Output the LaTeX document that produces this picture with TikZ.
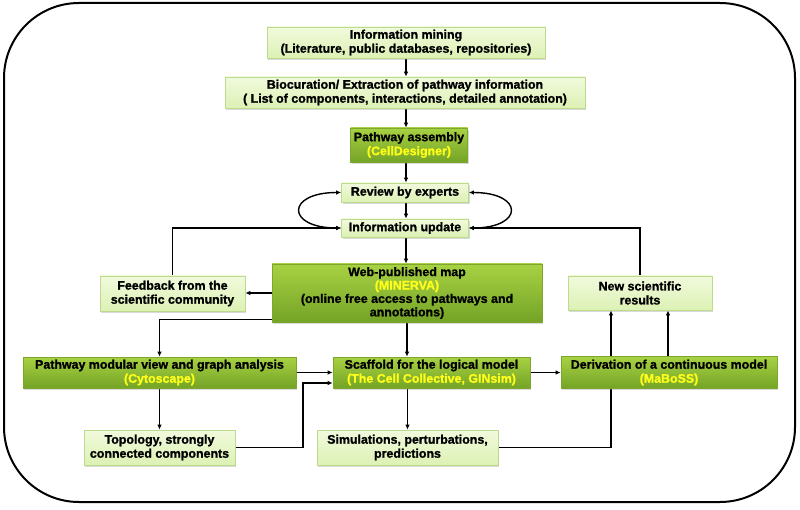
\documentclass[tikz,border=0pt]{standalone}
\usepackage{fontspec}
\setmainfont{Liberation Sans}[BoldFeatures={FakeBold=1.2}]
\usetikzlibrary{arrows.meta,shadows,backgrounds}
\definecolor{lighttop}{HTML}{F1FADD}
\definecolor{lightbot}{HTML}{DDF1B4}
\definecolor{lightedge}{HTML}{BCDB8C}
\definecolor{darktop}{HTML}{A8D243}
\definecolor{darkbot}{HTML}{74A326}
\definecolor{darkedge}{HTML}{7EA72E}
\definecolor{tooly}{HTML}{FFFF1A}
\tikzset{
  basebox/.style={rectangle, inner sep=1pt, align=center,
    font=\fontsize{12.4}{14}\selectfont\bfseries,
    drop shadow={opacity=0.3, shadow xshift=1.2pt, shadow yshift=-1.6pt}},
  lightbox/.style={basebox, draw=lightedge, line width=0.6pt, top color=lighttop, bottom color=lightbot},
  darkbox/.style={basebox, draw=darkedge, line width=0.6pt, top color=darktop, bottom color=darkbot},
  conn/.style={line width=1.4pt, draw=black},
  arr/.style={conn, -{Latex[length=5pt,width=4.5pt]}},
  dblarr/.style={conn, {Latex[length=5pt,width=4.5pt]}-{Latex[length=5pt,width=4.5pt]}},
  frame/.style={draw=black, line width=2pt, rounded corners=75pt},
}
\newcommand{\tool}[1]{\textcolor{tooly}{#1}}
\begin{document}
\begin{tikzpicture}[x=1pt,y=-1pt]
\useasboundingbox (0,0) rectangle (800,510);
% nodes
\node[lightbox, minimum width=278pt, minimum height=31pt] (mining) at (406,42.5)
  {Information mining\\(Literature, public databases, repositories)};
\node[lightbox, minimum width=360pt, minimum height=31pt] (bioc) at (405,92.5)
  {Biocuration/ Extraction of pathway information\\( List of components, interactions, detailed annotation)};
\node[darkbox, minimum width=117pt, minimum height=34pt] (assembly) at (409,145)
  {Pathway assembly\\\tool{(CellDesigner)}};
\node[lightbox, minimum width=127pt, minimum height=19pt] (review) at (405,192.5)
  {Review by experts};
\node[lightbox, minimum width=127pt, minimum height=18pt] (update) at (405,228)
  {Information update};
\node[darkbox, minimum width=270pt, minimum height=58pt, font=\fontsize{12.4}{13.4}\selectfont\bfseries] (web) at (407,293)
  {Web-published map\\\tool{(MINERVA)}\\(online free access to pathways and\\annotations)};
\node[lightbox, minimum width=145pt, minimum height=35pt] (feedback) at (172.5,293.5)
  {Feedback from the\\scientific community};
\node[lightbox, minimum width=144pt, minimum height=34pt] (newsci) at (640,293)
  {New scientific\\results};
\node[darkbox, minimum width=273pt, minimum height=31pt] (modular) at (159.5,372.5)
  {Pathway modular view and graph analysis\\\tool{(Cytoscape)}};
\node[darkbox, minimum width=197pt, minimum height=31pt] (scaffold) at (431.5,372.5)
  {Scaffold for the logical model\\\tool{(The Cell Collective, GINsim)}};
\node[darkbox, minimum width=216pt, minimum height=32pt] (deriv) at (669,372.5)
  {Derivation of a continuous model\\\tool{(MaBoSS)}};
\node[lightbox, minimum width=151pt, minimum height=35pt] (topology) at (159.5,447.5)
  {Topology, strongly\\connected components};
\node[lightbox, minimum width=181pt, minimum height=35pt] (simul) at (407.5,447.5)
  {Simulations, perturbations,\\predictions};
\coordinate (tbend) at (303,447.5);
\coordinate (sbend) at (611,447.5);
\begin{pgfonlayer}{background}
\node[frame, minimum width=791pt, minimum height=499pt] (outer) at (399.5,252.5) {};
% vertical chain
\draw[arr] (mining.south) -- (mining.south |- bioc.north);
\draw[arr] (mining.south |- bioc.south) -- (mining.south |- assembly.north);
\draw[arr] (mining.south |- assembly.south) -- (mining.south |- review.north);
\draw[arr] (mining.south |- review.south) -- (mining.south |- update.north);
\draw[arr] (mining.south |- update.south) -- (mining.south |- web.north);
% loops
\draw[dblarr] (review.west) to[out=180,in=180,looseness=4] (update.west);
\draw[dblarr] (review.east) to[out=0,in=0,looseness=4] (update.east);
% feedback lines
\draw[arr] (feedback.north) |- (update.west);
\draw[arr] (newsci.north) |- (update.east);
\draw[arr] (web.west) -- (web.west -| feedback.east);
\draw[arr] ([yshift=3pt]web.south west) -| (modular.north);
\draw[arr] (web.south) -- (web.south |- scaffold.north);
% lower part
\draw[arr] (modular.east) -- (modular.east -| scaffold.west);
\draw[arr] (modular.south) -- (topology.north);
\draw[arr] (topology.east) -- (tbend) |- ([yshift=-10.5pt]scaffold.west);
\draw[arr] (scaffold.east) -- (scaffold.east -| deriv.west);
\draw[arr] (simul.north |- scaffold.south) -- (simul.north);
\draw[arr] (simul.east) -- (sbend) -- (sbend |- newsci.south);
\draw[arr] ([xshift=28pt]newsci.south |- deriv.north) -- ([xshift=28pt]newsci.south);
\end{pgfonlayer}
\end{tikzpicture}
\end{document}
